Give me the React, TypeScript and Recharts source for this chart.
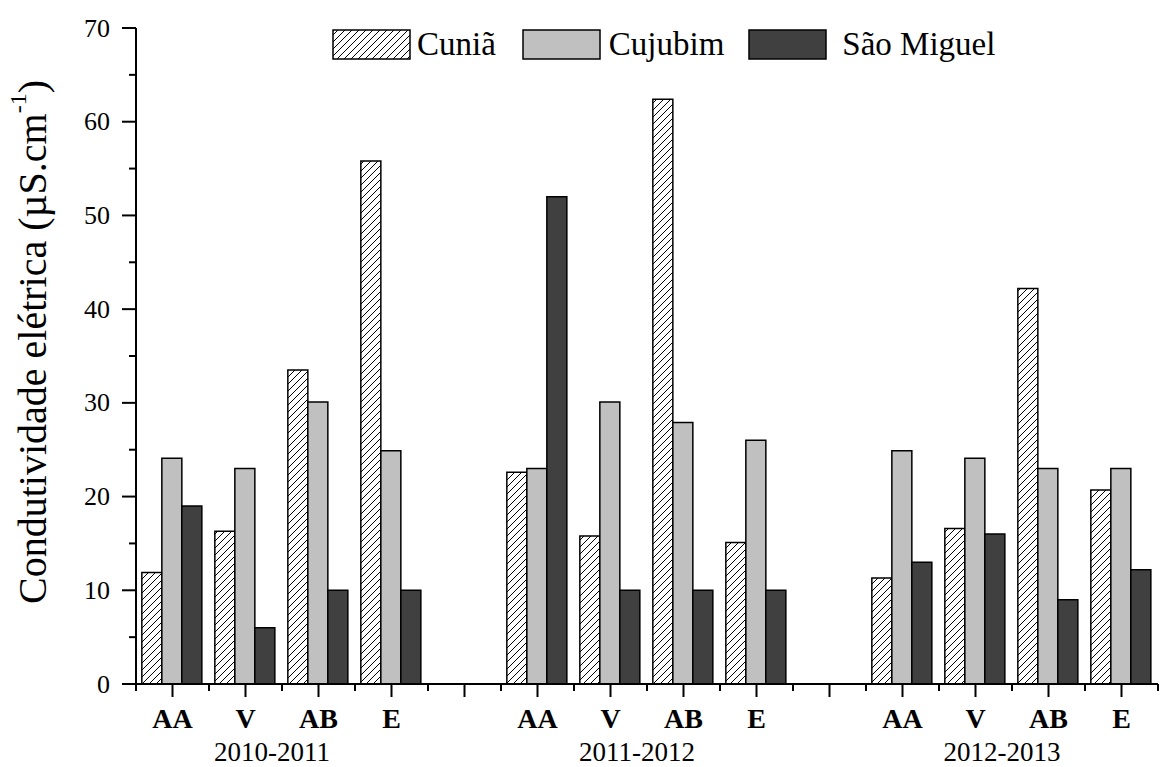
import React from "react";
import { BarChart, Bar, XAxis, YAxis } from "recharts";

// Sampling seasons and hydrological years
const seasons = ["AA", "V", "AB", "E"];
const years = ["2010-2011", "2011-2012", "2012-2013"];

// Electrical conductivity (µS.cm-1), one row per year, one value per season
const cuniaValues = [
  [11.9, 16.3, 33.5, 55.8],
  [22.6, 15.8, 62.4, 15.1],
  [11.3, 16.6, 42.2, 20.7],
];
const cujubimValues = [
  [24.1, 23.0, 30.1, 24.9],
  [23.0, 30.1, 27.9, 26.0],
  [24.9, 24.1, 23.0, 23.0],
];
const saoMiguelValues = [
  [19.0, 6.0, 10.0, 10.0],
  [52.0, 10.0, 10.0, 10.0],
  [13.0, 16.0, 9.0, 12.2],
];

const seriesNames = ["Cuniã", "Cujubim", "São Miguel"];
const yTicks = [0, 5, 10, 15, 20, 25, 30, 35, 40, 45, 50, 55, 60, 65, 70];

type Row = {
  slot: string;
  season: string;
  year: string;
  cunia: number | null;
  cujubim: number | null;
  saoMiguel: number | null;
};

// flatten into one category per season, with an empty slot between years
const rows: Row[] = [];
years.forEach((year, yi) => {
  seasons.forEach((season, si) => {
    rows.push({
      slot: `${year}-${season}`,
      season,
      year: si === 1 ? year : "",
      cunia: cuniaValues[yi][si],
      cujubim: cujubimValues[yi][si],
      saoMiguel: saoMiguelValues[yi][si],
    });
  });
  if (yi < years.length - 1) {
    rows.push({ slot: `gap-${yi}`, season: "", year: "", cunia: null, cujubim: null, saoMiguel: null });
  }
});

const W = 1161;
const H = 767;
const AXIS_W = 136;
const RIGHT = 3;
const BAND = (W - AXIS_W - RIGHT) / rows.length;
const FONT = "'Liberation Serif', 'Times New Roman', serif";

const LIGHT = "#c0c0c0";
const DARK = "#404040";

const XTick = (props: any) => {
  const { x, y, payload } = props;
  const idx = rows.findIndex((r) => r.slot === payload.value);
  const row = rows[idx];
  const last = idx === rows.length - 1;
  return (
    <g>
      <line x1={x} y1={y} x2={x} y2={y + 13} stroke="#000" strokeWidth={2} />
      <line x1={x - BAND / 2} y1={y} x2={x - BAND / 2} y2={y + 7} stroke="#000" strokeWidth={2} />
      {last && <line x1={x + BAND / 2} y1={y} x2={x + BAND / 2} y2={y + 7} stroke="#000" strokeWidth={2} />}
      <text x={x} y={y + 44} textAnchor="middle" fontFamily={FONT} fontWeight="bold" fontSize={28} fill="#000">
        {row.season}
      </text>
      {row.year && (
        <text x={x + BAND / 2 - 10} y={y + 77} textAnchor="middle" fontFamily={FONT} fontSize={27} fill="#000">
          {row.year}
        </text>
      )}
    </g>
  );
};

const YTick = (props: any) => {
  const { x, y, payload } = props;
  const major = payload.value % 10 === 0;
  return (
    <g>
      <line x1={x - (major ? 14 : 7)} y1={y} x2={x} y2={y} stroke="#000" strokeWidth={2} />
      {major && (
        <text x={x - 26} y={y} textAnchor="end" dominantBaseline="central" fontFamily={FONT} fontSize={26} fill="#000">
          {payload.value}
        </text>
      )}
    </g>
  );
};

const YTitle = (props: any) => {
  const vb = props.viewBox || { x: 0, y: 28, width: AXIS_W, height: 656 };
  const cx = vb.x + 32;
  const cy = vb.y + vb.height / 2 - 14;
  return (
    <text
      x={cx}
      y={cy}
      transform={`rotate(-90, ${cx}, ${cy})`}
      textAnchor="middle"
      dominantBaseline="central"
      fontFamily={FONT}
      fontSize={40}
      fill="#000"
    >
      Condutividade elétrica (µS.cm
      <tspan dy={-14} fontSize={24}>-1</tspan>
      <tspan dy={14}>)</tspan>
    </text>
  );
};

const HatchSwatch = ({ id }: { id: string }) => (
  <svg width={79} height={31} style={{ display: "block" }}>
    <defs>
      <pattern id={id} patternUnits="userSpaceOnUse" width={7} height={7}>
        <rect width={7} height={7} fill="#fff" />
        <path d="M0,7 L7,0 M-1,1 L1,-1 M6,8 L8,6" stroke="#000" strokeWidth={1} />
      </pattern>
    </defs>
    <rect x={1} y={1} width={77} height={29} fill={`url(#${id})`} stroke="#000" strokeWidth={1.5} />
  </svg>
);

const Swatch = ({ color }: { color: string }) => (
  <svg width={79} height={31} style={{ display: "block" }}>
    <rect x={1} y={1} width={77} height={29} fill={color} stroke="#000" strokeWidth={1.5} />
  </svg>
);

const LegendBox = () => (
  <div
    style={{
      position: "absolute",
      left: 332,
      top: 29,
      display: "flex",
      alignItems: "center",
      fontFamily: FONT,
      fontSize: 33,
      color: "#000",
      lineHeight: "31px",
    }}
  >
    <HatchSwatch id="legendHatch" />
    <span style={{ marginLeft: 6, marginRight: 26 }}>{seriesNames[0]}</span>
    <Swatch color={LIGHT} />
    <span style={{ marginLeft: 8, marginRight: 24 }}>{seriesNames[1]}</span>
    <Swatch color={DARK} />
    <span style={{ marginLeft: 15 }}>{seriesNames[2]}</span>
  </div>
);

export default function App() {
  return (
    <div style={{ position: "absolute", left: 0, top: 0, width: W, height: H, background: "#fff" }}>
      <BarChart
        width={W}
        height={H}
        data={rows}
        margin={{ top: 28, right: RIGHT, bottom: 0, left: 0 }}
        barCategoryGap="8%"
        barGap={0}
      >
        <defs>
          <pattern id="barHatch" patternUnits="userSpaceOnUse" width={7} height={7}>
            <rect width={7} height={7} fill="#fff" />
            <path d="M0,7 L7,0 M-1,1 L1,-1 M6,8 L8,6" stroke="#000" strokeWidth={1} />
          </pattern>
        </defs>
        <XAxis
          dataKey="slot"
          interval={0}
          height={83}
          tickLine={false}
          tickSize={0}
          tickMargin={0}
          axisLine={{ stroke: "#000", strokeWidth: 2 }}
          tick={<XTick />}
        />
        <YAxis
          domain={[0, 70]}
          ticks={yTicks}
          interval={0}
          width={AXIS_W}
          tickLine={false}
          tickSize={0}
          tickMargin={0}
          axisLine={{ stroke: "#000", strokeWidth: 2 }}
          tick={<YTick />}
          label={<YTitle />}
        />
        <Bar dataKey="cunia" name={seriesNames[0]} fill="url(#barHatch)" stroke="#000" strokeWidth={1.5} isAnimationActive={false} />
        <Bar dataKey="cujubim" name={seriesNames[1]} fill={LIGHT} stroke="#000" strokeWidth={1.5} isAnimationActive={false} />
        <Bar dataKey="saoMiguel" name={seriesNames[2]} fill={DARK} stroke="#000" strokeWidth={1.5} isAnimationActive={false} />
      </BarChart>
      <LegendBox />
    </div>
  );
}
